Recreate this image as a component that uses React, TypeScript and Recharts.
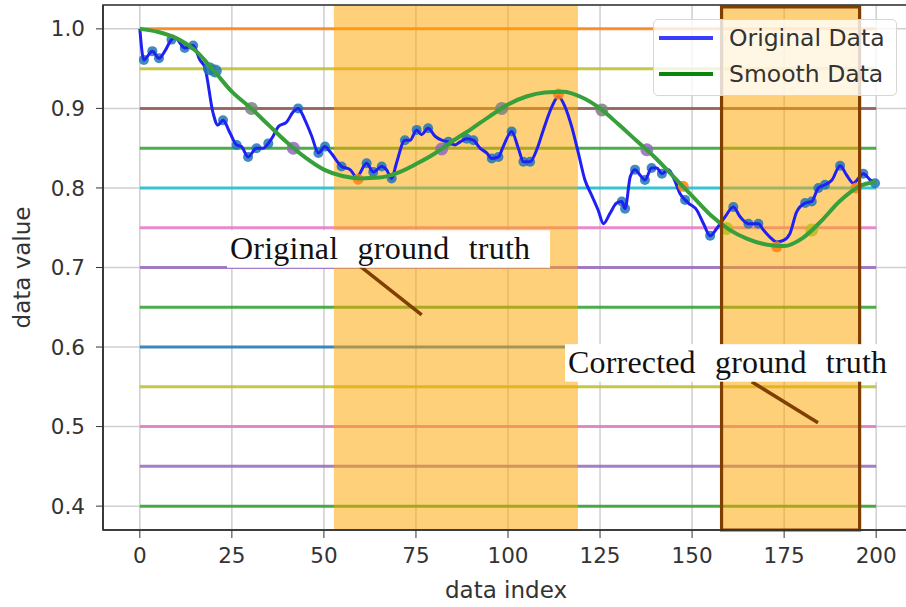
import React from 'react';
import {
  ComposedChart, Line, Scatter, XAxis, YAxis, CartesianGrid,
  ReferenceLine, ReferenceArea, ReferenceDot, Legend,
} from 'recharts';

// ---------- data ----------
const xTicks = [0, 25, 50, 75, 100, 125, 150, 175, 200];
const yTicks = [0.4, 0.5, 0.6, 0.7, 0.8, 0.9, 1.0];
const xDomain = [-10, 210];
const yDomain = [0.37, 1.03];

const hLevels = [1.0, 0.95, 0.9, 0.85, 0.8, 0.75, 0.7, 0.65, 0.6, 0.55, 0.5, 0.45, 0.4];
const hColors = ['#ff7f0e', '#bcbd22', '#8c564b', '#2ca02c', '#17becf', '#e377c2', '#9467bd',
  '#2ca02c', '#1f77b4', '#bcbd22', '#e377c2', '#9467bd', '#2ca02c'];
const hRange = [0, 200];

const origX = [0, 1.1, 3.4, 5.2, 6.8, 8.6, 9.5, 12.2, 14.5, 16.3, 17.7, 19.9, 21.2, 22.6, 24.5,
  26.3, 27.6, 29.4, 31.7, 33.5, 34.9, 36.2, 37.6, 39.9, 41.7, 43.0, 44.8, 46.7, 48.5, 50.3, 51.6,
  54.8, 57.1, 58.9, 61.6, 63.4, 65.7, 67.0, 68.4, 69.7, 72.0, 73.4, 75.2, 76.5, 78.3, 80.2, 82.0,
  83.8, 85.6, 87.0, 88.8, 90.6, 92.4, 94.2, 95.6, 97.4, 98.7, 101.0, 102.8, 104.2, 106.0, 107.8,
  109.6, 111.9, 113.7, 115.5, 117.3, 119.1, 120.9, 122.7, 124.5, 125.9, 127.7, 129.5, 130.9, 131.8,
  133.2, 134.5, 135.9, 137.2, 139.0, 140.4, 141.8, 143.6, 145.4, 146.7, 148.1, 149.0, 151.3, 153.1,
  154.9, 156.7, 159.0, 161.2, 163.0, 165.3, 168.0, 169.4, 171.2, 173.0, 174.8, 176.6, 178.4, 180.7,
  182.5, 184.3, 186.1, 188.0, 190.2, 192.0, 193.8, 196.5, 198.4, 199.7];
const origY = [1.0, 0.961, 0.972, 0.963, 0.972, 0.9865, 0.989, 0.976, 0.979, 0.961, 0.951, 0.894,
  0.879, 0.885, 0.869, 0.854, 0.852, 0.839, 0.850, 0.850, 0.856, 0.865, 0.877, 0.883, 0.896, 0.900,
  0.886, 0.865, 0.844, 0.852, 0.846, 0.827, 0.823, 0.814, 0.831, 0.820, 0.827, 0.823, 0.812, 0.831,
  0.860, 0.860, 0.873, 0.867, 0.875, 0.865, 0.860, 0.858, 0.854, 0.858, 0.862, 0.860, 0.850, 0.844,
  0.837, 0.839, 0.852, 0.871, 0.850, 0.833, 0.833, 0.848, 0.873, 0.902, 0.915, 0.902, 0.877, 0.844,
  0.810, 0.791, 0.772, 0.755, 0.768, 0.781, 0.783, 0.774, 0.814, 0.823, 0.816, 0.810, 0.825, 0.825,
  0.818, 0.823, 0.808, 0.793, 0.785, 0.781, 0.772, 0.755, 0.740, 0.749, 0.764, 0.776, 0.764, 0.755,
  0.755, 0.747, 0.738, 0.732, 0.734, 0.743, 0.770, 0.781, 0.783, 0.800, 0.804, 0.810, 0.828, 0.816,
  0.806, 0.818, 0.810, 0.806];

// sample points of the original data that carry a visible marker
const dotX = [1.1, 3.4, 5.2, 8.6, 12.2, 14.5, 22.6, 26.3, 29.4, 31.7, 34.9, 43.0, 48.5, 50.3, 54.8,
  61.6, 63.4, 65.7, 68.4, 72.0, 75.2, 78.3, 83.8, 88.8, 90.6, 95.6, 97.4, 101.0, 104.2, 106.0,
  130.9, 131.8, 134.5, 137.2, 139.0, 141.8, 148.1, 154.9, 161.2, 165.3, 168.0, 180.7, 182.5, 184.3,
  186.1, 190.2, 196.5, 199.7];

const smoothX = [0, 5, 10, 15, 20, 25, 30, 35, 40, 45, 50, 55, 60, 65, 70, 75, 80, 85, 90, 95, 100,
  105, 110, 115, 120, 125, 130, 135, 140, 145, 150, 155, 160, 165, 170, 175, 180, 185, 190, 195, 200];
const smoothY = [1.0, 0.996, 0.988, 0.973, 0.948, 0.921, 0.901, 0.879, 0.857, 0.838, 0.823, 0.815,
  0.812, 0.813, 0.819, 0.830, 0.843, 0.859, 0.874, 0.890, 0.905, 0.915, 0.920, 0.921, 0.914, 0.900,
  0.880, 0.859, 0.838, 0.814, 0.790, 0.766, 0.748, 0.736, 0.729, 0.727, 0.737, 0.758, 0.783, 0.801,
  0.808];

// crossing markers, grouped by colour
const crossGroups = [
  { color: '#1f77b4', xs: [18.9, 20.5], ys: [0.950, 0.947] },
  { color: '#7f7f7f', xs: [30.3, 98.3, 125.5], ys: [0.900, 0.900, 0.898] },
  { color: '#9467bd', xs: [41.7, 82.0, 137.7], ys: [0.850, 0.849, 0.848] },
  { color: '#ff7f0e', xs: [59.3, 113.7, 147.6, 173.0, 194.5], ys: [0.811, 0.918, 0.802, 0.726, 0.800] },
  { color: '#bcbd22', xs: [159.4, 182.5], ys: [0.749, 0.747] },
];
const bigMarkerColors = ['#1f77b4', '#7f7f7f', '#9467bd', '#bcbd22'];

const spans = [[52.7, 119.0], [158.0, 195.5]];
const boxRect = { x1: 158.0, x2: 195.5, y1: 0.37, y2: 1.0275 };

const annotations = [
  { text: 'Original ground truth', tx: 24.5, ty: 0.711, from: [58.44, 0.7069], to: [76.56, 0.6403], w: 300 },
  { text: 'Corrected ground truth', tx: 116.3, ty: 0.5678, from: [166.19, 0.5564], to: [184.2, 0.5049], w: 319 },
];

const origData = origX.map((x, i) => ({ x, y: origY[i] }));
const dotData = origData.filter((d) => dotX.includes(d.x));
const smoothData = smoothX.map((x, i) => ({ x, y: smoothY[i] }));

const FONT = '"DejaVu Sans", sans-serif';
const BROWN = '#7f3f00';

const renderLegend = () => (
  <div style={{
    position: 'relative', width: 244, height: 77, boxSizing: 'border-box',
    border: '1px solid #d6d6d6', borderRadius: 5, background: 'rgba(255,255,255,0.8)',
    fontFamily: FONT, fontSize: 23.5, color: '#333',
  }}>
    <div style={{ position: 'absolute', left: 5, top: 15.7, width: 54, height: 4, background: '#3c3cff' }} />
    <div style={{ position: 'absolute', left: 75, top: 6.8, lineHeight: 1, whiteSpace: 'nowrap' }}>Original Data</div>
    <div style={{ position: 'absolute', left: 5, top: 52.3, width: 54, height: 4, background: '#0a870a' }} />
    <div style={{ position: 'absolute', left: 75, top: 43.4, lineHeight: 1, whiteSpace: 'nowrap' }}>Smooth Data</div>
  </div>
);

export default function App() {
  return (
    <div style={{ position: 'absolute', left: 0, top: 0, width: 906, height: 607, overflow: 'hidden', background: '#fff' }}>
      <ComposedChart width={930} height={607} margin={{ top: 5, right: 17, bottom: 0, left: 0 }}>
        <CartesianGrid stroke="#cfcfcf" strokeWidth={1.5} />
        <XAxis
          type="number" dataKey="x" domain={xDomain} ticks={xTicks} allowDataOverflow
          height={77} tickSize={8} tickMargin={10}
          stroke="#333" axisLine={{ stroke: '#333', strokeWidth: 1.6 }}
          tick={{ fill: '#333', fontSize: 21.5, fontFamily: FONT }}
          label={({ viewBox }: any) => (
            <text x={viewBox.x + viewBox.width / 2 - 2} y={viewBox.y + 68} textAnchor="middle"
              fontFamily={FONT} fontSize={23} fill="#333">data index</text>
          )}
        />
        <YAxis
          type="number" dataKey="y" domain={yDomain} ticks={yTicks} allowDataOverflow
          width={103} tickSize={7} tickMargin={11}
          tickFormatter={(v: number) => v.toFixed(1)}
          stroke="#333" axisLine={{ stroke: '#333', strokeWidth: 1.6 }}
          tick={{ fill: '#333', fontSize: 21.5, fontFamily: FONT }}
          label={({ viewBox }: any) => {
            const cx = viewBox.x + 22;
            const cy = viewBox.y + viewBox.height / 2;
            return (
              <text x={cx} y={cy} transform={`rotate(-90 ${cx} ${cy})`} textAnchor="middle"
                dominantBaseline="central" fontFamily={FONT} fontSize={23} fill="#333">data value</text>
            );
          }}
        />

        {hLevels.map((v, i) => (
          <ReferenceLine key={'h' + i} segment={[{ x: hRange[0], y: v }, { x: hRange[1], y: v }]}
            stroke={hColors[i]} strokeOpacity={0.85} strokeWidth={3} ifOverflow="visible" zIndex={100} />
        ))}

        {spans.map((s, i) => (
          <ReferenceArea key={'s' + i} x1={s[0]} x2={s[1]} y1={yDomain[0]} y2={yDomain[1]}
            fill="#ffa500" fillOpacity={0.52} stroke="none" ifOverflow="visible" zIndex={110} />
        ))}

        <Scatter data={dotData} dataKey="y" isAnimationActive={false} zIndex={120}
          shape={(p: any) => <circle cx={p.cx} cy={p.cy} r={5} fill="#1f77b4" fillOpacity={0.85} />} />

        <Line data={origData} dataKey="y" type="monotone" stroke="#2020f5" strokeWidth={3}
          dot={false} activeDot={false} isAnimationActive={false} zIndex={130} />

        {crossGroups.map((g, gi) => (
          <Scatter key={'c' + gi} data={g.xs.map((x, i) => ({ x, y: g.ys[i] }))} dataKey="y"
            isAnimationActive={false} zIndex={140}
            shape={(p: any) => (
              <circle cx={p.cx} cy={p.cy} r={bigMarkerColors.includes(g.color) ? 6.5 : 5.5}
                fill={g.color} fillOpacity={0.85} />
            )} />
        ))}

        <Line data={smoothData} dataKey="y" type="monotone" stroke="#38a03a" strokeWidth={4}
          dot={false} activeDot={false} isAnimationActive={false} zIndex={150} />

        <ReferenceArea x1={boxRect.x1} x2={boxRect.x2} y1={boxRect.y1} y2={boxRect.y2}
          fill="none" stroke={BROWN} strokeWidth={3.2} ifOverflow="visible" zIndex={160} />

        <ReferenceArea x1={xDomain[0]} x2={xDomain[1]} y1={yDomain[0]} y2={yDomain[1]}
          fill="none" stroke="#333" strokeWidth={1.6} ifOverflow="visible" zIndex={170} />

        {annotations.map((a, i) => (
          <ReferenceLine key={'a' + i} segment={[{ x: a.from[0], y: a.from[1] }, { x: a.to[0], y: a.to[1] }]}
            stroke={BROWN} strokeWidth={3.5} ifOverflow="visible" zIndex={180} />
        ))}

        {annotations.map((a, i) => (
          <ReferenceDot key={'t' + i} x={a.tx} y={a.ty} ifOverflow="visible" zIndex={190}
            shape={(p: any) => (
              <g>
                <rect x={p.cx - 3} y={p.cy - 28.5} width={a.w + 23} height={37.5} fill="#fff" />
                <text x={p.cx} y={p.cy} fontFamily='"Liberation Serif", "DejaVu Serif", serif' fontSize={32}
                  fill="#111" wordSpacing={11} textLength={a.w} lengthAdjust="spacing">{a.text}</text>
              </g>
            )} />
        ))}

        <Legend content={renderLegend} layout="vertical" align="center" verticalAlign="middle"
          wrapperStyle={{ left: 653, top: 19, width: 244, height: 77 }} />
      </ComposedChart>
    </div>
  );
}
